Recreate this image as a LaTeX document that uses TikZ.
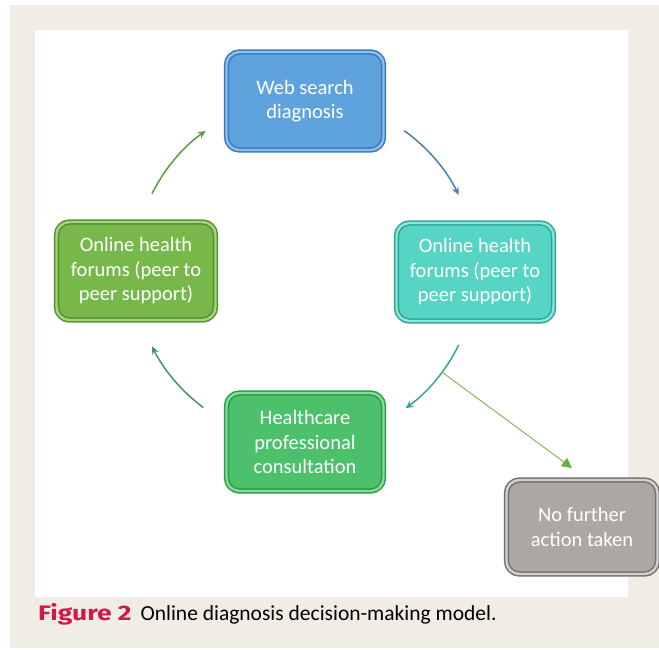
\documentclass[tikz,border=0pt]{standalone}
\usepackage{fontspec}
\setmainfont{Carlito}
\newfontfamily\capfont{Fira Sans}
\usetikzlibrary{arrows.meta,shadows}

\definecolor{frame}{HTML}{F0EEE4}
\definecolor{figred}{HTML}{D3174A}
% box fills, rims and rim highlights
\definecolor{wsfill}{HTML}{5FA3DE}\definecolor{wsedge}{HTML}{3A78BA}\definecolor{wslite}{HTML}{8CC0EC}
\definecolor{tqfill}{HTML}{56D4C4}\definecolor{tqedge}{HTML}{2EA394}\definecolor{tqlite}{HTML}{8AE6DA}
\definecolor{lgfill}{HTML}{78B84B}\definecolor{lgedge}{HTML}{558F30}\definecolor{lglite}{HTML}{A3D57E}
\definecolor{bgfill}{HTML}{4CC06A}\definecolor{bgedge}{HTML}{2E9A4B}\definecolor{bglite}{HTML}{84DB9A}
\definecolor{gyfill}{HTML}{AAA7A5}\definecolor{gyedge}{HTML}{747270}\definecolor{gylite}{HTML}{D2D0CE}
% connector colours
\definecolor{arcA}{HTML}{4E7EAD}
\definecolor{arcB}{HTML}{3AA398}
\definecolor{arcC}{HTML}{3E9A5E}
\definecolor{arcD}{HTML}{5B9C3A}
\definecolor{exitline}{HTML}{6DAF40}

\begin{document}
\begin{tikzpicture}[x=1pt,y=1pt,
  stage/.style={rounded corners=13pt, minimum width=157pt, minimum height=98pt,
    inner sep=0pt, align=center, text=white,
    font=\fontsize{20.5}{24.5}\selectfont,
    line width=1.5pt, double distance=2.4pt,
    drop shadow={opacity=0.3, shadow xshift=1.4pt, shadow yshift=-1.4pt}},
  cycle arrow/.style={line width=1.5pt, -{Stealth[length=8pt,width=7pt]}},
  exit arrow/.style={exitline, line width=0.8pt, -{Triangle[length=10pt,width=10pt]}}]

\useasboundingbox (0,0) rectangle (659,-650);
% page frame and white panel
\fill[frame] (10,-5) rectangle (659,-648);
\fill[white] (35,-30) rectangle (628,-597);

% the four stages of the cycle and the exit box
\node[stage, fill=wsfill, draw=wsedge, double=wslite] (web) at (305,-101) {Web search\\diagnosis};
\node[stage, fill=tqfill, draw=tqedge, double=tqlite] (forumR) at (475,-272) {Online health\\forums (peer to\\peer support)};
\node[stage, fill=bgfill, draw=bgedge, double=bglite] (hcp) at (305,-442) {Healthcare\\professional\\consultation};
\node[stage, fill=lgfill, draw=lgedge, double=lglite, minimum width=159pt] (forumL) at (136,-271) {Online health\\forums (peer to\\peer support)};
\node[stage, fill=gyfill, draw=gyedge, double=gylite, minimum width=151pt, minimum height=94pt] (none) at (582,-527) {No further\\action taken};

% circular cycle arcs around a common hub
\coordinate (hub) at (305,-270);
\path (hub) ++(54.5:171) coordinate (a1)
      (hub) ++(-26:171) coordinate (b1)
      (hub) ++(-36.7:171) coordinate (split)
      (hub) ++(-126.5:171) coordinate (c1)
      (hub) ++(153.5:171) coordinate (d1);
\coordinate (exitend) at (572,-468);

\draw[cycle arrow, arcA] (a1) arc[start angle=54.5, end angle=26, radius=171];
\draw[cycle arrow, arcB] (b1) arc[start angle=-26, end angle=-54, radius=171];
\draw[cycle arrow, arcC] (c1) arc[start angle=-126.5, end angle=-153.5, radius=171];
\draw[cycle arrow, arcD] (d1) arc[start angle=153.5, end angle=125.5, radius=171];

% branch leaving the cycle
\draw[exit arrow] (split) -- (exitend);

% caption
\node[anchor=base west, inner sep=0pt] (caption) at (38,-620)
  {\scalebox{1.26}[1]{\capfont\color{figred}\bfseries\fontsize{21}{24}\selectfont Figure 2}\hspace{9pt}{\fontsize{21.5}{24}\selectfont Online diagnosis decision-making model.}};
\end{tikzpicture}
\end{document}
